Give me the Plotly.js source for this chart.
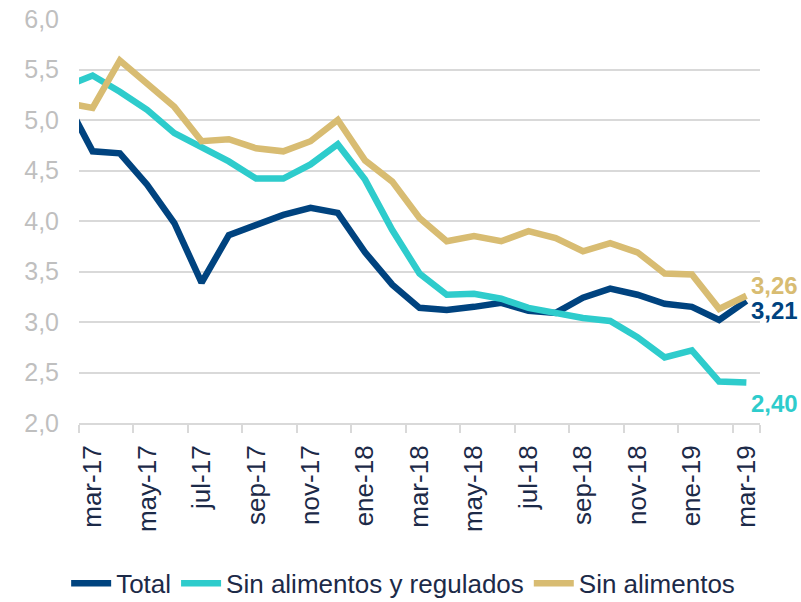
<!DOCTYPE html>
<html>
<head>
<meta charset="utf-8">
<script src="https://cdn.plot.ly/plotly-3.0.1.min.js"></script>
<style>
  html, body { margin: 0; padding: 0; background: #ffffff; overflow: hidden; }
  #chart { width: 801px; height: 625px; }
</style>
</head>
<body>
<div id="chart"></div>
<script>
// Months (feb-17 lies just outside the visible range; its segment is clipped at the left edge)
const months = ['feb-17','mar-17','abr-17','may-17','jun-17','jul-17','ago-17','sep-17','oct-17','nov-17','dic-17',
                'ene-18','feb-18','mar-18','abr-18','may-18','jun-18','jul-18','ago-18','sep-18','oct-18','nov-18','dic-18',
                'ene-19','feb-19','mar-19'];
const xTickLabels = ['mar-17','may-17','jul-17','sep-17','nov-17','ene-18','mar-18','may-18','jul-18','sep-18','nov-18','ene-19','mar-19'];

const total      = [5.20, 4.69, 4.67, 4.36, 3.98, 3.39, 3.86, 3.96, 4.06, 4.13, 4.08, 3.69, 3.37, 3.14, 3.12, 3.15, 3.19, 3.11, 3.09, 3.24, 3.33, 3.27, 3.18, 3.15, 3.02, 3.21];
const sinAlimReg = [5.33, 5.44, 5.28, 5.10, 4.87, 4.73, 4.59, 4.42, 4.42, 4.56, 4.76, 4.41, 3.91, 3.48, 3.27, 3.28, 3.23, 3.14, 3.09, 3.04, 3.01, 2.85, 2.65, 2.72, 2.41, 2.40];
const sinAlim    = [5.17, 5.12, 5.59, 5.36, 5.13, 4.79, 4.81, 4.72, 4.69, 4.79, 5.00, 4.60, 4.39, 4.03, 3.80, 3.85, 3.80, 3.90, 3.83, 3.70, 3.78, 3.69, 3.48, 3.47, 3.13, 3.26];

const seriesNames = ['Total', 'Sin alimentos y regulados', 'Sin alimentos'];
const colors = ['#00437f', '#2ecccc', '#d8bc72'];
const seriesData = [total, sinAlimReg, sinAlim];
const labelShift = [-10, -21, 10];

const FONT = 'Liberation Sans, Arial, sans-serif';
const fmt = v => v.toFixed(2).replace('.', ',');

const traces = seriesData.map((d, i) => ({
  type: 'scatter',
  mode: 'lines',
  x: months,
  y: d,
  name: seriesNames[i],
  line: { color: colors[i], width: 6.5, shape: 'linear' },
  hoverinfo: 'skip'
}));

const last = months[months.length - 1];
const annotations = seriesData.map((d, i) => ({
  x: last,
  y: d[d.length - 1],
  xref: 'x', yref: 'y',
  text: '<b>' + fmt(d[d.length - 1]) + '</b>',
  showarrow: false,
  xanchor: 'left',
  yanchor: 'middle',
  xshift: 3,
  yshift: labelShift[i],
  font: { family: FONT, size: 24, color: colors[i] }
}));

const layout = {
  width: 801,
  height: 625,
  margin: { l: 79, r: 41, t: 19, b: 202 },
  paper_bgcolor: '#ffffff',
  plot_bgcolor: '#ffffff',
  separators: ',.',
  showlegend: true,
  legend: {
    orientation: 'h',
    x: 0.476, xanchor: 'center',
    y: -0.455, yanchor: 'bottom',
    font: { family: FONT, size: 26, color: '#1c2a48' },
    traceorder: 'normal',
    itemwidth: 40
  },
  xaxis: {
    type: 'category',
    categoryorder: 'array',
    categoryarray: months,
    range: [0.5, months.length - 0.5],
    tickmode: 'array',
    tickvals: xTickLabels,
    ticktext: xTickLabels,
    tickson: 'boundaries',
    ticks: 'outside',
    ticklen: 8,
    tickwidth: 2,
    tickcolor: '#d9d9d9',
    tickangle: -90,
    ticklabelstandoff: 10,
    tickfont: { family: FONT, size: 26, color: '#1c2a48' },
    showline: true,
    linecolor: '#d9d9d9',
    linewidth: 2,
    showgrid: false,
    zeroline: false,
    automargin: false,
    fixedrange: true
  },
  yaxis: {
    range: [2, 6],
    tickmode: 'linear',
    tick0: 2,
    dtick: 0.5,
    tickformat: '.1f',
    ticks: '',
    ticklabelstandoff: 19,
    tickfont: { family: FONT, size: 25, color: '#bfbfbf' },
    showgrid: true,
    gridcolor: '#d9d9d9',
    gridwidth: 2,
    showline: false,
    zeroline: false,
    automargin: false,
    fixedrange: true
  },
  annotations: annotations
};

Plotly.newPlot('chart', traces, layout, { displayModeBar: false, staticPlot: true });
</script>
</body>
</html>
